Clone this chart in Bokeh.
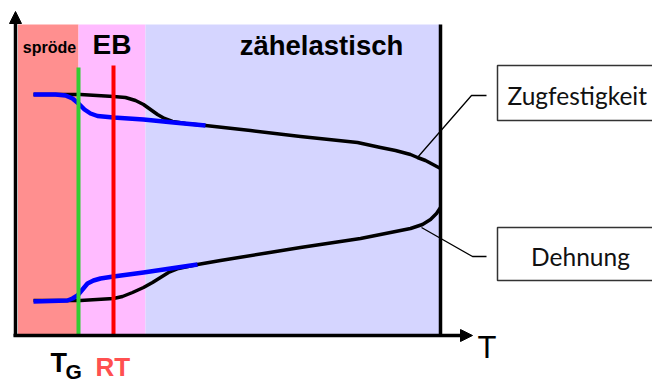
from bokeh.plotting import figure
from bokeh.models import Range1d, Arrow, NormalHead, ColumnDataSource
from bokeh.core.properties import value
from bokeh.embed import file_html
from bokeh.resources import INLINE

# ---- data (T = temperature axis units, V = property value units) ----
region_names = ["spröde", "EB", "zähelastisch"]
region_start = [2.5, 63, 130]
region_end = [63, 130, 425]
region_top = [311, 311, 311]
region_colors = ["#FF8F8F", "#FFBBFF", "#D5D5FF"]

# Zugfestigkeit (tensile strength) - black and blue curves
zug_black_T = [18, 65, 98, 110, 120, 128, 135, 142, 149, 157, 170, 190, 235, 285, 342, 365, 380, 395, 402, 410, 425]
zug_black_V = [241, 241, 239, 238, 235, 231, 226, 221, 217, 214, 212, 210, 205, 199, 193, 188, 185, 181, 178, 175, 167]
zug_blue_T = [18, 40, 50, 57, 63, 69, 75, 82, 98, 128, 158, 190]
zug_blue_V = [241, 241, 240, 237, 232, 226, 222, 219.5, 218, 216, 213, 210]

# Dehnung (elongation) - black and blue curves
deh_black_T = [18, 65, 98, 107, 117, 128, 137, 145, 153, 163, 182, 205, 285, 345, 375, 395, 407, 415, 421, 425]
deh_black_V = [35, 35, 37, 39, 43, 48, 53, 58, 63, 67, 71, 75, 88, 97, 103, 107, 111, 116, 122, 128]
deh_blue_T = [18, 52, 57, 62, 67, 72, 78, 85, 98, 128, 155, 182]
deh_blue_V = [34, 35, 37, 40, 46, 52, 55, 57, 59, 63, 67, 71]

# marker temperatures
T_G = 63
T_RT = 98
T_end = 425

# ---- layout ----
W, H = 652, 383
X_LO, Y_HI = -15, 335
K = 0.35  # baseline correction factor for svg text

p = figure(width=W, height=H, output_backend="svg", toolbar_location=None,
           x_range=Range1d(X_LO, X_LO + W), y_range=Range1d(Y_HI - H, Y_HI),
           min_border=0, min_border_left=0, min_border_right=0,
           min_border_top=0, min_border_bottom=0)
p.axis.visible = False
p.grid.visible = False
p.outline_line_color = None
p.background_fill_color = "white"
p.border_fill_color = "white"

reg = ColumnDataSource(dict(left=region_start, right=region_end,
                            bottom=[0, 0, 0], top=region_top, color=region_colors))
p.quad(left="left", right="right", bottom="bottom", top="top",
       fill_color="color", line_color=None, source=reg)

# curves
p.line(zug_black_T, zug_black_V, line_color="black", line_width=3.5, line_join="round")
p.line(deh_black_T, deh_black_V, line_color="black", line_width=3.5, line_join="round")
p.line(zug_blue_T, zug_blue_V, line_color="#0000FF", line_width=4.5, line_join="round")
p.line(deh_blue_T, deh_blue_V, line_color="#0000FF", line_width=4.5, line_join="round")

# vertical markers
p.segment(x0=[T_G], y0=[0], x1=[T_G], y1=[268], line_color="#33CC33", line_width=4)
p.segment(x0=[T_RT], y0=[0], x1=[T_RT], y1=[270], line_color="#FF0000", line_width=4)
p.segment(x0=[T_end], y0=[0], x1=[T_end], y1=[311], line_color="black", line_width=3.5)

# axes with arrows
p.add_layout(Arrow(end=NormalHead(size=12, fill_color="black", line_color="black", line_width=1),
                   x_start=0, y_start=-1, x_end=0, y_end=324,
                   line_color="black", line_width=3.5))
p.add_layout(Arrow(end=NormalHead(size=12, fill_color="black", line_color="black", line_width=1),
                   x_start=-2, y_start=0, x_end=457, y_end=0,
                   line_color="black", line_width=3.5))

# leader lines
p.line([471, 456, 402], [240, 240, 178], line_color="black", line_width=1.3)
p.line([471, 457, 406], [79, 79, 108], line_color="black", line_width=1.3)

# label boxes
p.quad(left=[482, 482], right=[700, 700], bottom=[215, 55], top=[270, 108],
       fill_color="white", line_color="#333333", line_width=1.5)


def label(x, base, txt, fs, align="left", color="black", font="Liberation Sans", style="bold"):
    p.text(x=[x], y=[base + K * fs], text=[txt], text_font_size=f"{fs}px", text_align=align,
           text_color=color, text_font=value(font), text_font_style=style,
           text_baseline="alphabetic")


label(34, 282, region_names[0], 16, align="center")
label(96.5, 281, region_names[1], 28, align="center")
label(306, 280, region_names[2], 27.5, align="center")

label(35, -37, "T", 27)
label(50, -43, "G", 21)
label(80, -41, "RT", 26, color="#FF5050")

label(462, -23, "T", 31, style="normal")

label(492, 231, "Zugfestigkeit", 24.5, font="Lato", style="normal", color="#111111")
label(565, 70, "Dehnung", 24.5, align="center", font="Lato", style="normal", color="#111111")

open("out.html", "w").write(file_html(p, INLINE))
